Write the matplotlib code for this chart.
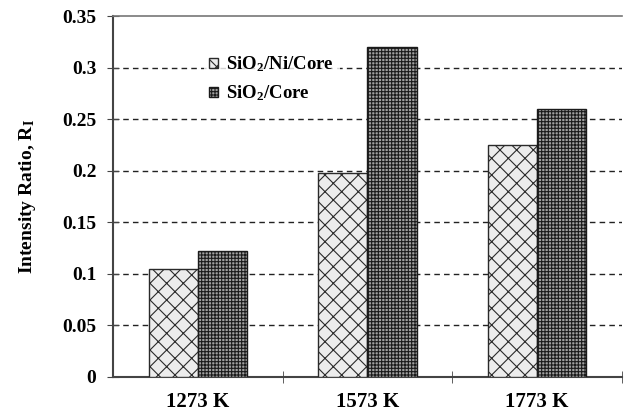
import numpy as np
import matplotlib.pyplot as plt
import matplotlib as mpl

mpl.rcParams['hatch.linewidth'] = 0.8
plt.rcParams['font.family'] = ['Liberation Serif', 'DejaVu Serif']
plt.rcParams['font.weight'] = 'bold'
plt.rcParams['mathtext.fontset'] = 'custom'
plt.rcParams['mathtext.rm'] = 'Liberation Serif:bold'
plt.rcParams['mathtext.bf'] = 'Liberation Serif:bold'
plt.rcParams['mathtext.it'] = 'Liberation Serif:bold'

temps = ['1273 K', '1573 K', '1773 K']
ni_core = [0.105, 0.198, 0.225]
sio2_core = [0.122, 0.32, 0.26]
yticks = [0, 0.05, 0.1, 0.15, 0.2, 0.25, 0.3, 0.35]
ytick_labels = ['0', '0.05', '0.1', '0.15', '0.2', '0.25', '0.3', '0.35']

fig = plt.figure(figsize=(6.28, 4.12), dpi=100)
ax = fig.add_axes([0.180, 0.085, 0.810, 0.876])

x = np.arange(len(temps))
w = 0.29
ax.bar(x - w/2, ni_core, w, facecolor='#ececec', edgecolor='#2a2a2a',
       hatch='xx', linewidth=1.0, label='SiO$_\\mathrm{2}$/Ni/Core', zorder=3)
ax.bar(x + w/2, sio2_core, w, facecolor='#a0a0a0', edgecolor='#1a1a1a',
       hatch='+++++', linewidth=1.0, label='SiO$_\\mathrm{2}$/Core', zorder=3)

# dashed gridlines
for v in yticks[1:-1]:
    ax.axhline(v, color='#222222', linestyle=(0, (4, 3)), linewidth=1.0, zorder=1)

ax.set_xlim(-0.5, 2.5)
ax.set_ylim(0, 0.35)
ax.set_yticks(yticks)
ax.set_yticklabels(ytick_labels, fontsize=14, fontweight='bold')
ax.set_xticks(x)
ax.set_xticklabels(temps, fontsize=15, fontweight='bold')
ax.set_xticks([0.5, 1.5, 2.5], minor=True)
ax.tick_params(axis='x', which='major', length=0, pad=11)
ax.tick_params(axis='x', which='minor', direction='inout', length=8, color='#444444')
ax.tick_params(axis='y', direction='inout', length=8, color='#444444', pad=8)

ax.spines['right'].set_visible(False)
ax.spines['top'].set_color('#777777')
ax.spines['top'].set_linewidth(1.2)
for s in ['left', 'bottom']:
    ax.spines[s].set_color('#444444')
    ax.spines[s].set_linewidth(1.5)

ax.set_ylabel('Intensity Ratio, R$_\\mathrm{I}$', fontsize=14, fontweight='bold')
ax.yaxis.set_label_coords(-0.148, 0.5)

leg = ax.legend(loc='upper left', bbox_to_anchor=(0.16, 0.935), frameon=True,
                fontsize=13.5, handlelength=0.45, handleheight=0.45, handletextpad=0.45,
                labelspacing=0.5, borderpad=0.3, fancybox=False)
leg.get_frame().set_facecolor('white')
leg.get_frame().set_edgecolor('none')
leg.set_zorder(5)

fig.savefig('out.png', dpi=100)
